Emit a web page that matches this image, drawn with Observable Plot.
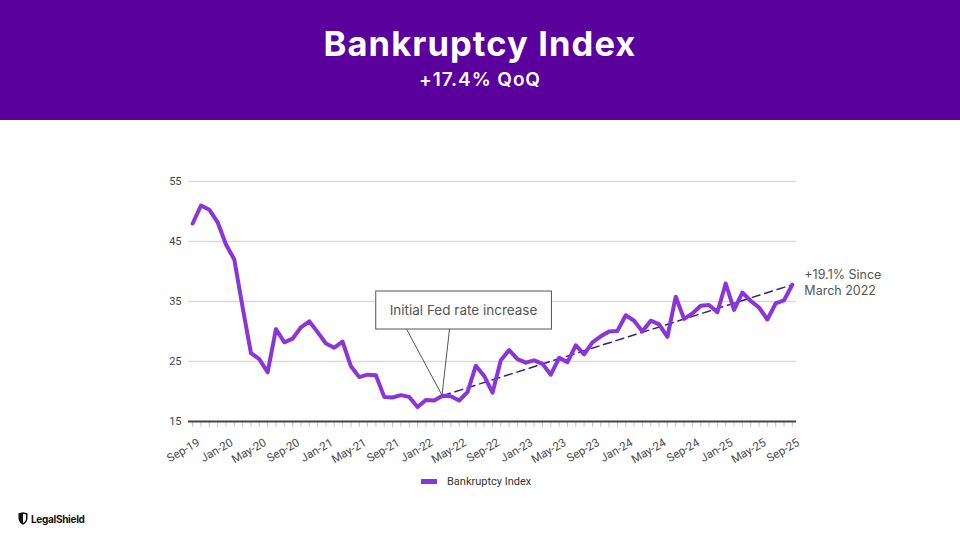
<!DOCTYPE html>
<html>
<head>
<meta charset="utf-8">
<script src="https://cdn.jsdelivr.net/npm/d3@7"></script>
<script src="https://cdn.jsdelivr.net/npm/@observablehq/plot@0.6"></script>
<style>
  html, body { margin: 0; padding: 0; background: #fff; }
  body { width: 960px; height: 540px; position: relative; overflow: hidden; font-family: Inter, "Noto Sans", sans-serif; }
  #header { position: absolute; left: 0; top: 0; width: 960px; height: 120px; background: #5a009c; }
  #title { position: absolute; left: 0; width: 960px; top: 27px; text-align: center; color: #fff; font: 700 34.5px/34.5px Inter, sans-serif; letter-spacing: 1.1px; }
  #subtitle { position: absolute; left: 0; width: 960px; top: 70px; text-align: center; color: #fff; font: 600 19px/19px Inter, sans-serif; letter-spacing: 0.9px; }
  #chart { position: absolute; left: 0; top: 120px; }
  #legend { position: absolute; left: 421px; top: 475px; height: 12px; display: flex; align-items: center; font: 400 11px/11px Roboto, sans-serif; color: #333; }
  #legend .sw { width: 16px; height: 5px; background: #8a35da; margin-right: 10px; }
  #logo { position: absolute; left: 18px; top: 512px; display: flex; align-items: center; }
  #logo span { font: 700 10px/12px Inter, sans-serif; color: #111; letter-spacing: -0.3px; margin-left: 3px; }
</style>
</head>
<body>
<div id="header">
  <div id="title">Bankruptcy Index</div>
  <div id="subtitle">+17.4% QoQ</div>
</div>
<div id="chart"></div>
<div id="legend"><div class="sw"></div><div>Bankruptcy Index</div></div>
<div id="logo">
  <svg width="10" height="13" viewBox="0 0 10 13"><path d="M0.5 1.2 L5 0.3 L9.5 1.2 L9.5 6.5 C9.5 9.5 7.2 11.6 5 12.7 C2.8 11.6 0.5 9.5 0.5 6.5 Z" fill="#111"/><path d="M5 1.8 L8 2.4 L8 6.5 C8 8.6 6.6 10.2 5 11.1 Z" fill="#fff"/></svg>
  <span>LegalShield</span>
</div>
<script>
// ---- data ----
const seriesName = "Bankruptcy Index";
// monthly values, Sep-19 .. Sep-25
const values = [
  48.0, 51.0, 50.3, 48.2, 44.5, 42.0, 34.0, 26.4, 25.4, 23.2, 30.4, 28.2,
  28.8, 30.7, 31.7, 29.9, 28.0, 27.3, 28.3, 24.2, 22.4, 22.8, 22.7, 19.1,
  19.0, 19.4, 19.1, 17.4, 18.6, 18.5, 19.3, 19.2, 18.5, 19.9, 24.3, 22.6,
  19.8, 25.2, 26.9, 25.4, 24.8, 25.2, 24.6, 22.8, 25.6, 24.9, 27.7, 26.2,
  28.2, 29.2, 30.0, 30.1, 32.7, 31.8, 30.0, 31.8, 31.2, 29.1, 35.8, 32.1,
  33.0, 34.3, 34.4, 33.2, 38.0, 33.6, 36.5, 35.1, 34.0, 32.0, 34.7, 35.2,
  37.8
];
const tickLabels = ["Sep-19","Jan-20","May-20","Sep-20","Jan-21","May-21","Sep-21",
  "Jan-22","May-22","Sep-22","Jan-23","May-23","Sep-23","Jan-24","May-24","Sep-24",
  "Jan-25","May-25","Sep-25"];
const yTicks = [15, 25, 35, 45, 55];
const gridValues = [25, 35, 45, 55];
const baseline = [15];
// trend since March 2022 (index 30) to Sep-25 (index 72)
const trendIdx = [30, 72];
const trendVals = [19.3, 37.8];
const trendLabel = "+19.1% Since\nMarch 2022";
const annoText = "Initial Fed rate increase";
const annoIdx = 30;
const annoVal = 19.3;

const data = values.map((v, i) => ({i, v}));
const trend = trendIdx.map((i, k) => ({i, v: trendVals[k]}));
const monthTicks = d3.range(values.length);
const labelTicks = d3.range(0, values.length, 4);

const svg = Plot.plot({
  width: 960,
  height: 360,
  marginTop: 61,
  marginBottom: 59,
  marginLeft: 188,
  marginRight: 164,
  style: {fontFamily: "Roboto, sans-serif", fontSize: "11px", overflow: "visible"},
  x: {type: "linear", domain: [-0.5, values.length - 0.5], axis: null},
  y: {domain: [15, 55], axis: null},
  marks: [
    Plot.ruleY(gridValues, {stroke: "#d9d9d9", strokeWidth: 1.5}),
    Plot.axisX(monthTicks, {tickSize: 6, stroke: "#c4c4c4", tickFormat: () => "", label: null}),
    Plot.axisX(labelTicks, {tickSize: 0, tickPadding: 20, dx: 6, tickRotate: -30, fill: "#4a4a4a", fontSize: 11.5,
      tickFormat: i => tickLabels[i / 4], label: null}),
    Plot.axisY(yTicks, {tickSize: 0, tickPadding: 7, fill: "#444", fontSize: 11, label: null}),
    Plot.ruleY(baseline, {stroke: "#444", strokeWidth: 2}),
    Plot.line(trend, {x: "i", y: "v", stroke: "#3f1d7c", strokeWidth: 1.5, strokeDasharray: "8,5"}),
    Plot.line(data, {x: "i", y: "v", stroke: "#8a35da", strokeWidth: 4, strokeLinejoin: "round"}),
    Plot.text([trend[1]], {x: "i", y: "v", text: () => trendLabel, dx: 12, dy: -3, textAnchor: "start",
      lineAnchor: "middle", lineHeight: 1.3, fontFamily: "Inter, sans-serif", fontSize: 12.5, fill: "#555"}),
    Plot.text([{i: annoIdx, v: annoVal}], {x: "i", y: "v", text: () => annoText, dx: 21, dy: -85,
      fontFamily: "Inter, sans-serif", fontSize: 13.5, fill: "#555", className: "anno"})
  ]
});
document.getElementById("chart").append(svg);

// annotation box and leader lines
const ns = "http://www.w3.org/2000/svg";
const textGroup = svg.querySelector("g.anno");
const tEl = textGroup.querySelector("text");
const sr = svg.getBoundingClientRect();
const tr = tEl.getBoundingClientRect();
const padX = 14, padY = 11;
const bx = tr.left - sr.left - padX, by = tr.top - sr.top - padY;
const bw = tr.width + 2 * padX, bh = tr.height + 2 * padY;
const rect = document.createElementNS(ns, "rect");
rect.setAttribute("x", bx); rect.setAttribute("y", by);
rect.setAttribute("width", bw); rect.setAttribute("height", bh);
rect.setAttribute("fill", "#fff"); rect.setAttribute("stroke", "#555"); rect.setAttribute("stroke-width", 1);
textGroup.parentNode.insertBefore(rect, textGroup);
const px = svg.scale("x").apply(annoIdx), py = svg.scale("y").apply(annoVal);
[0.175, 0.42].forEach(f => {
  const l = document.createElementNS(ns, "line");
  l.setAttribute("x1", bx + f * bw); l.setAttribute("y1", by + bh);
  l.setAttribute("x2", px); l.setAttribute("y2", py);
  l.setAttribute("stroke", "#555"); l.setAttribute("stroke-width", 1);
  textGroup.parentNode.insertBefore(l, textGroup);
});
</script>
</body>
</html>
